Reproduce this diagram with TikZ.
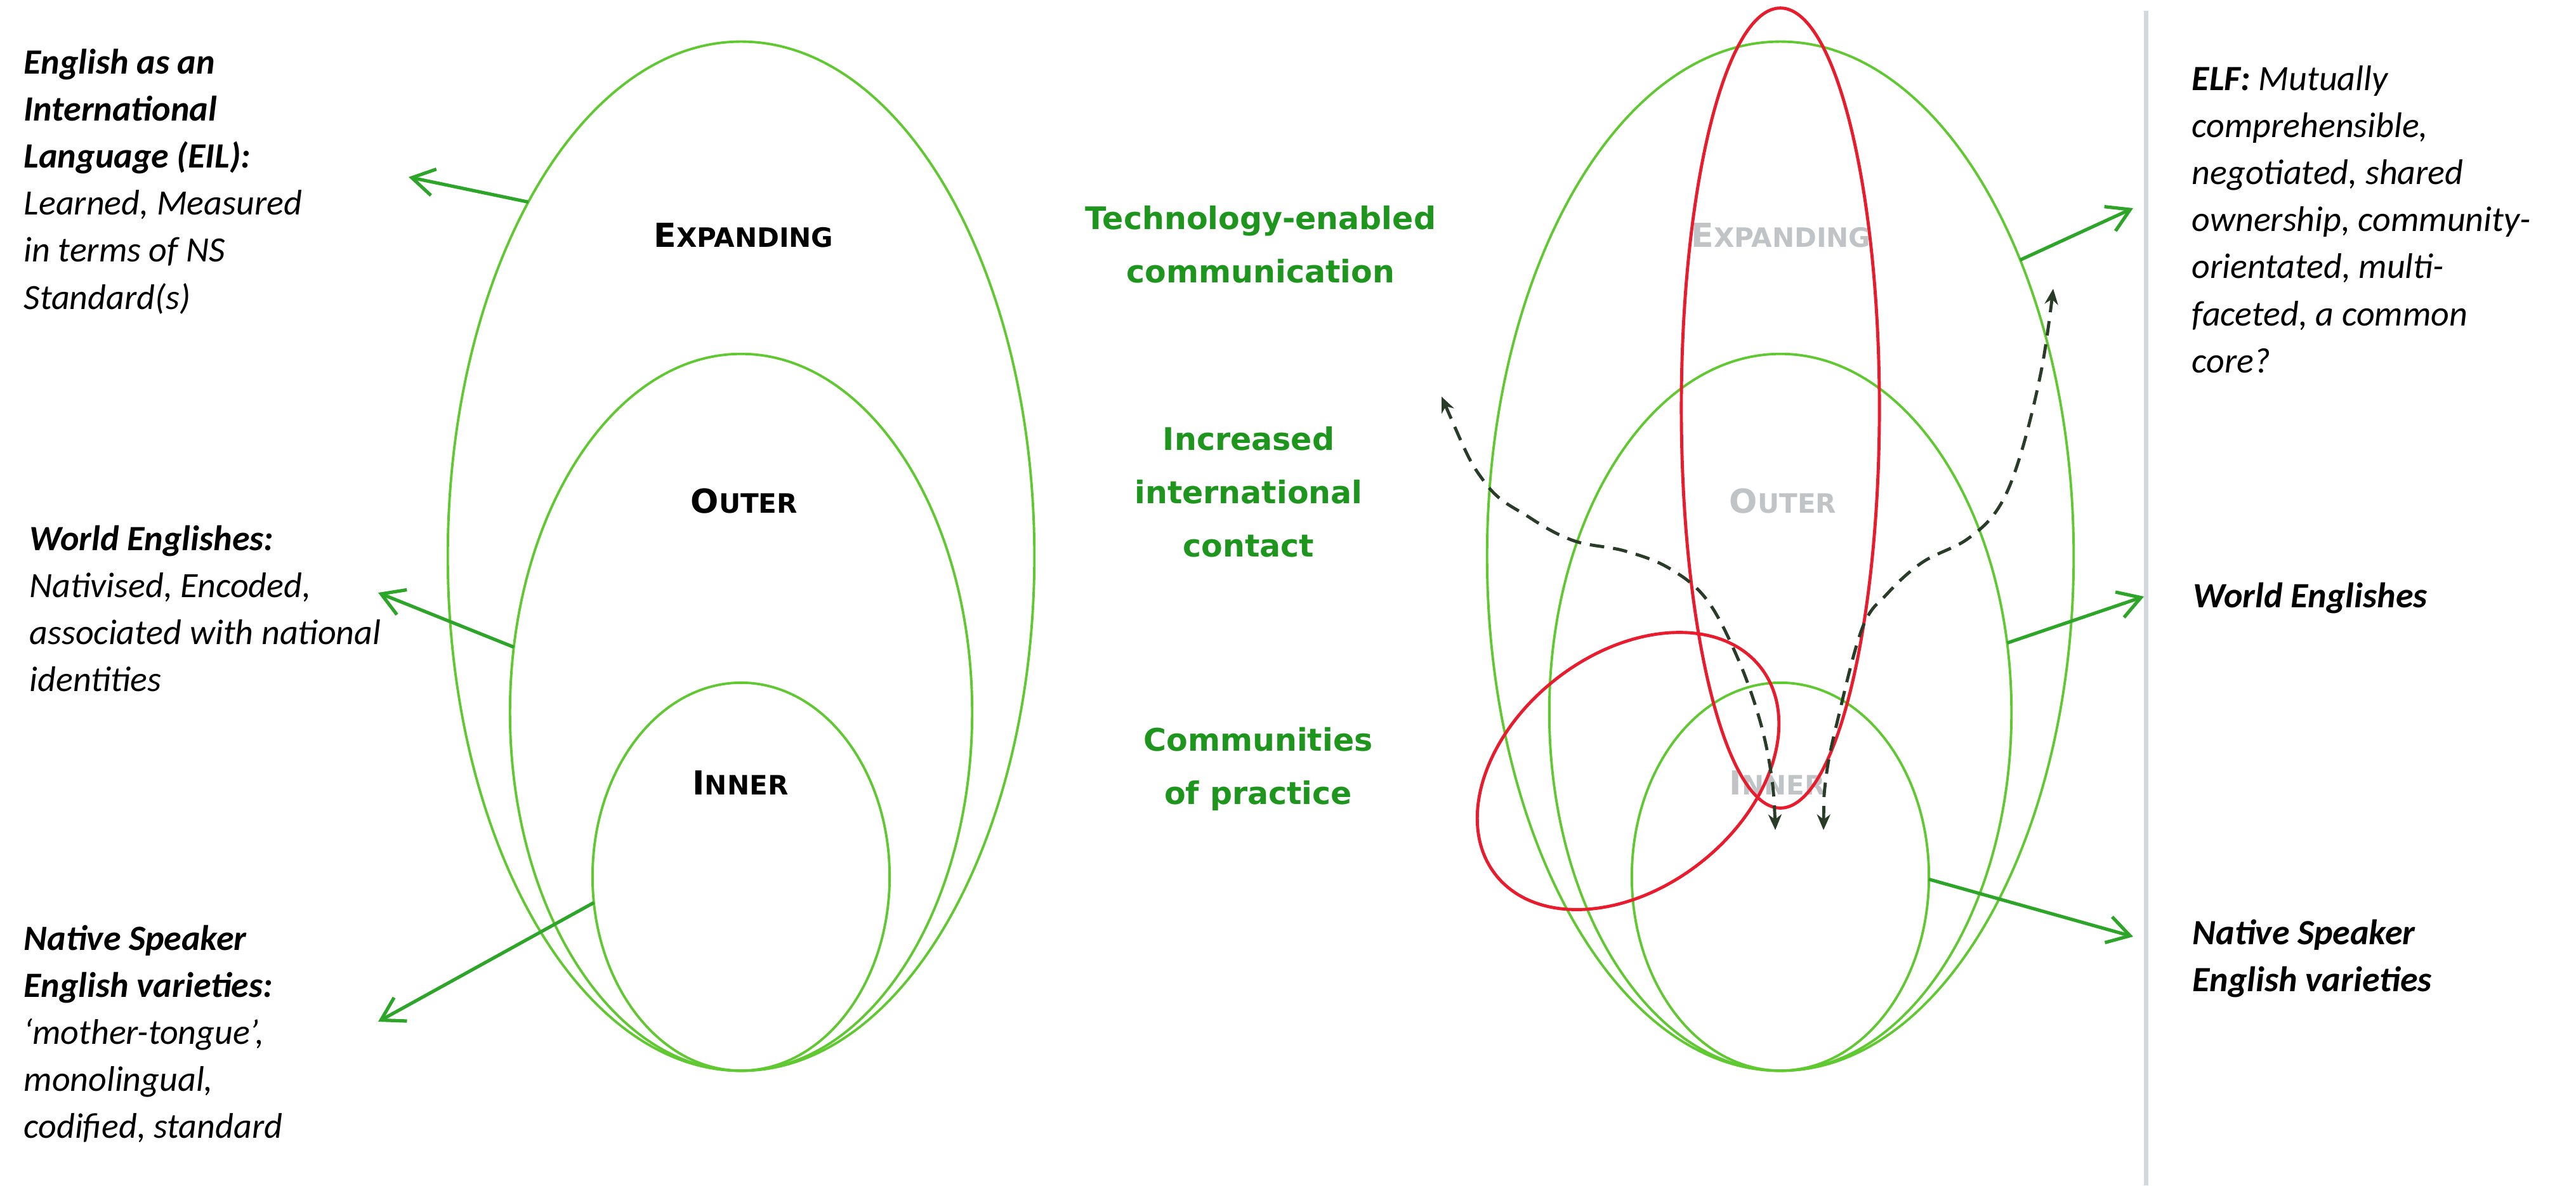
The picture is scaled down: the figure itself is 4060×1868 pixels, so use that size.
\documentclass[tikz,border=0pt]{standalone}
\usepackage{fontspec}
\setmainfont{Carlito}
\newfontfamily\labelfont{DejaVu Sans}
\usetikzlibrary{arrows.meta,shapes.geometric}

\definecolor{ringgreen}{RGB}{96,200,48}
\definecolor{arrowgreen}{RGB}{44,165,40}
\definecolor{textgreen}{RGB}{30,150,30}
\definecolor{loopred}{RGB}{232,28,44}
\definecolor{dashdark}{RGB}{40,60,40}
\definecolor{fadedgrey}{RGB}{192,196,198}
\definecolor{dividergrey}{RGB}{212,216,220}

% zero-width strut that fixes the height of a block's first line
\newcommand{\firstln}{\rule{0pt}{0.8em}}
% hand-made small caps for the ring names
\newcommand{\capbig}[1]{{\fontsize{14.8}{16}\selectfont #1}}
\newcommand{\capsmall}[1]{{\fontsize{11.95}{14}\selectfont #1}}

\tikzset{
  ring/.style={draw=ringgreen, line width=1.1pt, ellipse, inner sep=0pt, outer sep=0pt},
  loop/.style={draw=loopred, line width=1.4pt},
  pointer/.style={draw=arrowgreen, line width=1.5pt, -{Straight Barb[length=10pt,width=12pt]}},
  flow/.style={draw=dashdark, line width=1.4pt, dash pattern=on 6.5pt off 4pt,
    {Stealth[length=7pt,width=6pt]}-{Stealth[length=7pt,width=6pt]}},
  note/.style={anchor=north west, inner sep=0pt, align=left,
    font=\fontsize{15.93}{21.06}\selectfont\itshape},
  driver/.style={anchor=north, inner sep=0pt, align=center, text=textgreen,
    font=\labelfont\bfseries\fontsize{13.94}{23.9}\selectfont},
  ringname/.style={anchor=base, inner sep=0pt, font=\labelfont\bfseries},
}

\begin{document}
\begin{tikzpicture}[x=0.01cm, y=-0.01cm]
\useasboundingbox (0,0) rectangle (4060,1868);
\fill[white] (0,0) rectangle (4060,1868);

% divider between the two models
\draw[dividergrey, line width=2pt] (3382,17) -- (3382,1868);

% ---------------- left model: concentric circles ----------------
\node[ring, minimum width=9.24cm, minimum height=16.21cm] (lexp) at (1168,876.5) {};
\node[ring, minimum width=7.28cm, minimum height=11.29cm] (lout) at (1168,1122.5) {};
\node[ring, minimum width=4.68cm, minimum height=6.11cm] (linn) at (1168,1381.5) {};

\node[ringname] (lexpname) at (1172,389) {\capbig{E}\capsmall{XPANDING}};
\node[ringname] (loutname) at (1173,808) {\capbig{O}\capsmall{UTER}};
\node[ringname] (linnname) at (1167,1252) {\capbig{I}\capsmall{NNER}};

\node[note] (eil) at (37,71.2) {\firstln\textbf{English as an}\\\textbf{International}\\\textbf{Language (EIL):}\\Learned, Measured\\in terms of NS\\Standard(s)};
\node[note] (wel) at (46,822.2) {\firstln\textbf{World Englishes:}\\Nativised, Encoded,\\associated with national\\identities};
\node[note] (nsl) at (37,1452.2) {\firstln\textbf{Native Speaker}\\\textbf{English varieties:}\\`mother-tongue',\\monolingual,\\codified, standard};

\coordinate (eiltip) at (644,279);
\coordinate (weltip) at (596,934);
\coordinate (nsltip) at (596,1610);
\draw[pointer] (lexp.121.1) -- (eiltip);
\draw[pointer] (lout.164.5) -- (weltip);
\draw[pointer] (linn.190.4) -- (nsltip);

% ---------------- middle: driving forces ----------------
\node[driver] (tech) at (1987,321.8) {\firstln Technology-enabled\\communication};
\node[driver] (contact) at (1968,669.8) {\firstln Increased\\international\\contact};
\node[driver] (cop) at (1983,1143.8) {\firstln Communities\\of practice};

% ---------------- right model: overlapping circles ----------------
\node[ringname, text=fadedgrey] (rexpname) at (2807,389) {\capbig{E}\capsmall{XPANDING}};
\node[ringname, text=fadedgrey] (routname) at (2810,808) {\capbig{O}\capsmall{UTER}};
\node[ringname, text=fadedgrey] (rinnname) at (2801,1252) {\capbig{I}\capsmall{NNER}};

\node[ring, minimum width=9.24cm, minimum height=16.21cm] (rexp) at (2806,876.5) {};
\node[ring, minimum width=7.28cm, minimum height=11.29cm] (rout) at (2806,1122.5) {};
\node[ring, minimum width=4.68cm, minimum height=6.11cm] (rinn) at (2806,1381.5) {};

\draw[loop] (2806,643) ellipse [x radius=1.56cm, y radius=6.30cm];
\draw[loop, rotate around={38:(2566,1215)}] (2566,1215) ellipse [x radius=2.65cm, y radius=1.84cm];

\coordinate (flowLtop) at (2272,625);
\coordinate (flowLbot) at (2798,1308);
\coordinate (flowRbot) at (2874,1308);
\coordinate (flowRtop) at (3236,455);
\draw[flow] plot[smooth, tension=0.6] coordinates {(flowLtop) (2340,760) (2410,815) (2480,852) (2560,868) (2630,895) (2690,945) (2740,1040) (2775,1140) (2793,1230) (flowLbot)};
\draw[flow] plot[smooth, tension=0.6] coordinates {(flowRbot) (2878,1225) (2895,1140) (2935,990) (2975,935) (3030,886) (3100,850) (3150,800) (3185,715) (3218,580) (flowRtop)};

\node[note] (elf) at (3454,97.2) {\firstln\textbf{ELF:} Mutually\\comprehensible,\\negotiated, shared\\ownership, community-\\orientated, multi-\\faceted, a common\\core?};
\node[note] (wer) at (3456,912.2) {\firstln\textbf{World Englishes}};
\node[note] (nsr) at (3455,1443.2) {\firstln\textbf{Native Speaker}\\\textbf{English varieties}};

\coordinate (elftip) at (3362,328);
\coordinate (wertip) at (3379,940);
\coordinate (nsrtip) at (3362,1476);
\draw[pointer] (rexp.51.8) -- (elftip);
\draw[pointer] (rout.17.5) -- (wertip);
\draw[pointer] (rinn.-1.8) -- (nsrtip);
\end{tikzpicture}
\end{document}
